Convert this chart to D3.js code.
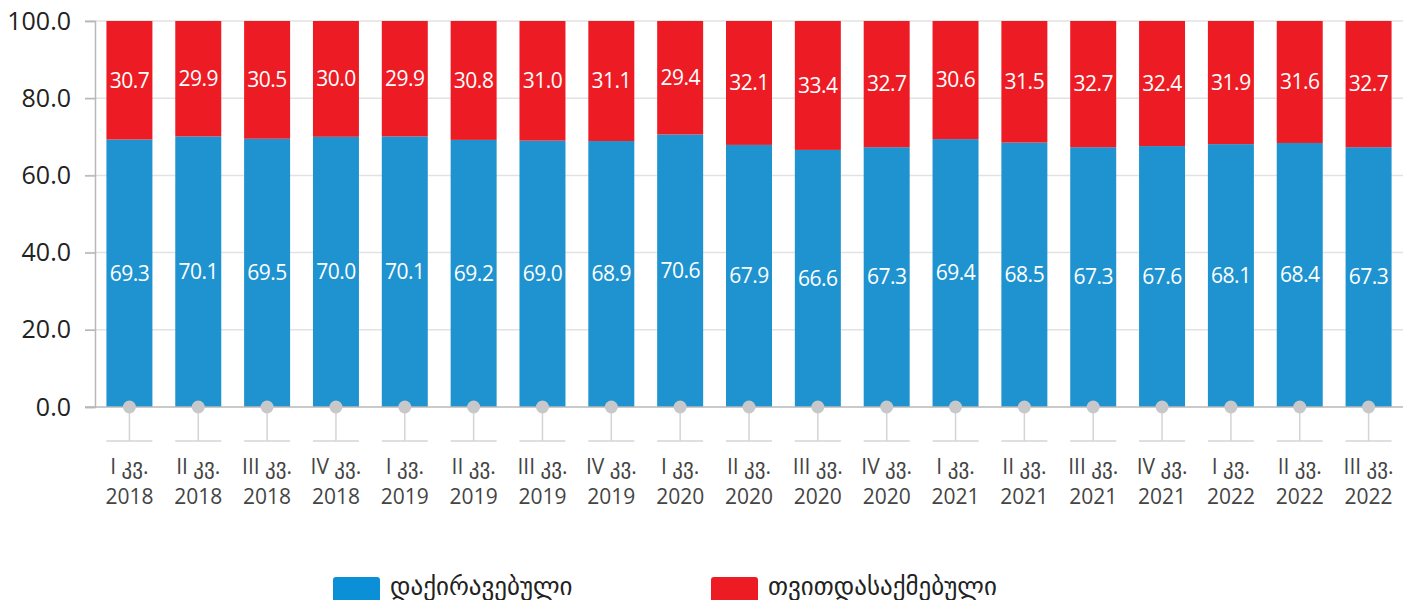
<!DOCTYPE html>
<html>
<head>
<meta charset="utf-8">
<script src="https://cdn.jsdelivr.net/npm/d3@7"></script>
<style>
  body { margin: 0; background: #fff; }
  text { font-family: "Open Sans", "DejaVu Sans", sans-serif; }
</style>
</head>
<body>
<svg id="chart" width="1413" height="600"></svg>
<script>
// quarters and years
var quarters = ['I', 'II', 'III', 'IV', 'I', 'II', 'III', 'IV', 'I', 'II', 'III', 'IV', 'I', 'II', 'III', 'IV', 'I', 'II', 'III'];
var years = ['2018', '2018', '2018', '2018', '2019', '2019', '2019', '2019', '2020', '2020', '2020', '2020', '2021', '2021', '2021', '2021', '2022', '2022', '2022'];
// series
var employed = [69.3, 70.1, 69.5, 70.0, 70.1, 69.2, 69.0, 68.9, 70.6, 67.9, 66.6, 67.3, 69.4, 68.5, 67.3, 67.6, 68.1, 68.4, 67.3];
var selfEmployed = [30.7, 29.9, 30.5, 30.0, 29.9, 30.8, 31.0, 31.1, 29.4, 32.1, 33.4, 32.7, 30.6, 31.5, 32.7, 32.4, 31.9, 31.6, 32.7];
var yTicks = [0, 20, 40, 60, 80, 100];
var seriesNames = ['დაქირავებული', 'თვითდასაქმებული'];

var barColors = ['#1e93d0', '#ed1c24'];
var legendColors = ['#0b8fd6', '#ed1c24'];

function drawChart() {
  var svg = d3.select('#chart');
  var plotLeft = 95, plotRight = 1403, plotTop = 21, plotBottom = 407;

  var idx = d3.range(quarters.length);
  var x = d3.scaleBand().domain(idx).range([plotLeft, plotRight]).paddingInner(0.332).paddingOuter(0.166);
  var y = d3.scaleLinear().domain([0, 100]).range([plotBottom, plotTop]);

  // gridlines
  svg.append('g').selectAll('line')
    .data(yTicks.filter(function(d) { return d > 0; }))
    .enter().append('line')
    .attr('x1', plotLeft - 10).attr('x2', plotRight)
    .attr('y1', function(d) { return y(d); }).attr('y2', function(d) { return y(d); })
    .attr('stroke', '#e2e2e2').attr('stroke-width', 1.5);

  // y axis
  var yAxis = svg.append('g').attr('transform', 'translate(' + plotLeft + ',0)')
    .call(d3.axisLeft(y).tickValues(yTicks).tickFormat(d3.format('.1f')).tickSize(10).tickPadding(14));
  yAxis.select('.domain').attr('stroke', '#b8b8b8').attr('stroke-width', 1.5);
  yAxis.selectAll('.tick line').attr('stroke', '#b8b8b8').attr('stroke-width', 1.5);
  yAxis.selectAll('.tick text').attr('font-size', 25).attr('fill', '#222')
    .style('font-family', '"Open Sans", sans-serif');

  // stacked data
  var stackData = idx.map(function(i) { return { i: i, a: employed[i], b: selfEmployed[i] }; });
  var stack = d3.stack().keys(['a', 'b'])(stackData);

  var layers = svg.append('g').selectAll('g')
    .data(stack).enter().append('g')
    .attr('fill', function(d, k) { return barColors[k]; });

  layers.selectAll('rect')
    .data(function(d) { return d; })
    .enter().append('rect')
    .attr('x', function(d) { return x(d.data.i); })
    .attr('width', x.bandwidth())
    .attr('y', function(d) { return y(d[1]); })
    .attr('height', function(d) { return y(d[0]) - y(d[1]); });

  layers.selectAll('text')
    .data(function(d) { return d; })
    .enter().append('text')
    .attr('x', function(d) { return x(d.data.i) + x.bandwidth() / 2; })
    .attr('y', function(d) { return (y(d[0]) + y(d[1])) / 2; })
    .attr('dy', '0.35em')
    .attr('text-anchor', 'middle')
    .attr('fill', '#fff')
    .attr('font-size', 21)
    .attr('letter-spacing', -0.5)
    .text(function(d) { return d3.format('.1f')(d[1] - d[0]); });

  // x axis baseline
  svg.append('line')
    .attr('x1', plotLeft - 10).attr('x2', plotRight)
    .attr('y1', plotBottom).attr('y2', plotBottom)
    .attr('stroke', '#b8b8b8').attr('stroke-width', 1.5);

  // category markers
  var cat = svg.append('g').selectAll('g')
    .data(idx).enter().append('g')
    .attr('transform', function(i) { return 'translate(' + (x(i) + x.bandwidth() / 2) + ',0)'; });

  cat.append('line')
    .attr('y1', plotBottom).attr('y2', 441)
    .attr('stroke', '#d4d4d4').attr('stroke-width', 1.5);
  cat.append('line')
    .attr('x1', -x.bandwidth() / 2).attr('x2', x.bandwidth() / 2)
    .attr('y1', 441).attr('y2', 441)
    .attr('stroke', '#d4d4d4').attr('stroke-width', 1.5);
  cat.append('circle')
    .attr('cy', plotBottom).attr('r', 6.5)
    .attr('fill', '#c8c8cb');
  cat.append('text')
    .attr('y', 467).attr('dy', '0.35em')
    .attr('text-anchor', 'middle').attr('font-size', 21).attr('fill', '#444')
    .text(function(i) { return quarters[i] + ' კვ.'; });
  cat.append('text')
    .attr('y', 497).attr('dy', '0.35em')
    .attr('text-anchor', 'middle').attr('font-size', 21).attr('fill', '#444')
    .text(function(i) { return years[i]; });

  // legend
  var legendX = [333, 711];
  var legend = svg.append('g').selectAll('g')
    .data(seriesNames).enter().append('g')
    .attr('transform', function(d, k) { return 'translate(' + legendX[k] + ',577)'; });
  legend.append('rect')
    .attr('width', 47).attr('height', 26).attr('rx', 3)
    .attr('fill', function(d, k) { return legendColors[k]; });
  legend.append('text')
    .attr('x', 57).attr('y', 9).attr('dy', '0.35em')
    .attr('font-size', 25).attr('fill', '#222')
    .text(function(d) { return d; });
}
drawChart();
</script>
</body>
</html>
